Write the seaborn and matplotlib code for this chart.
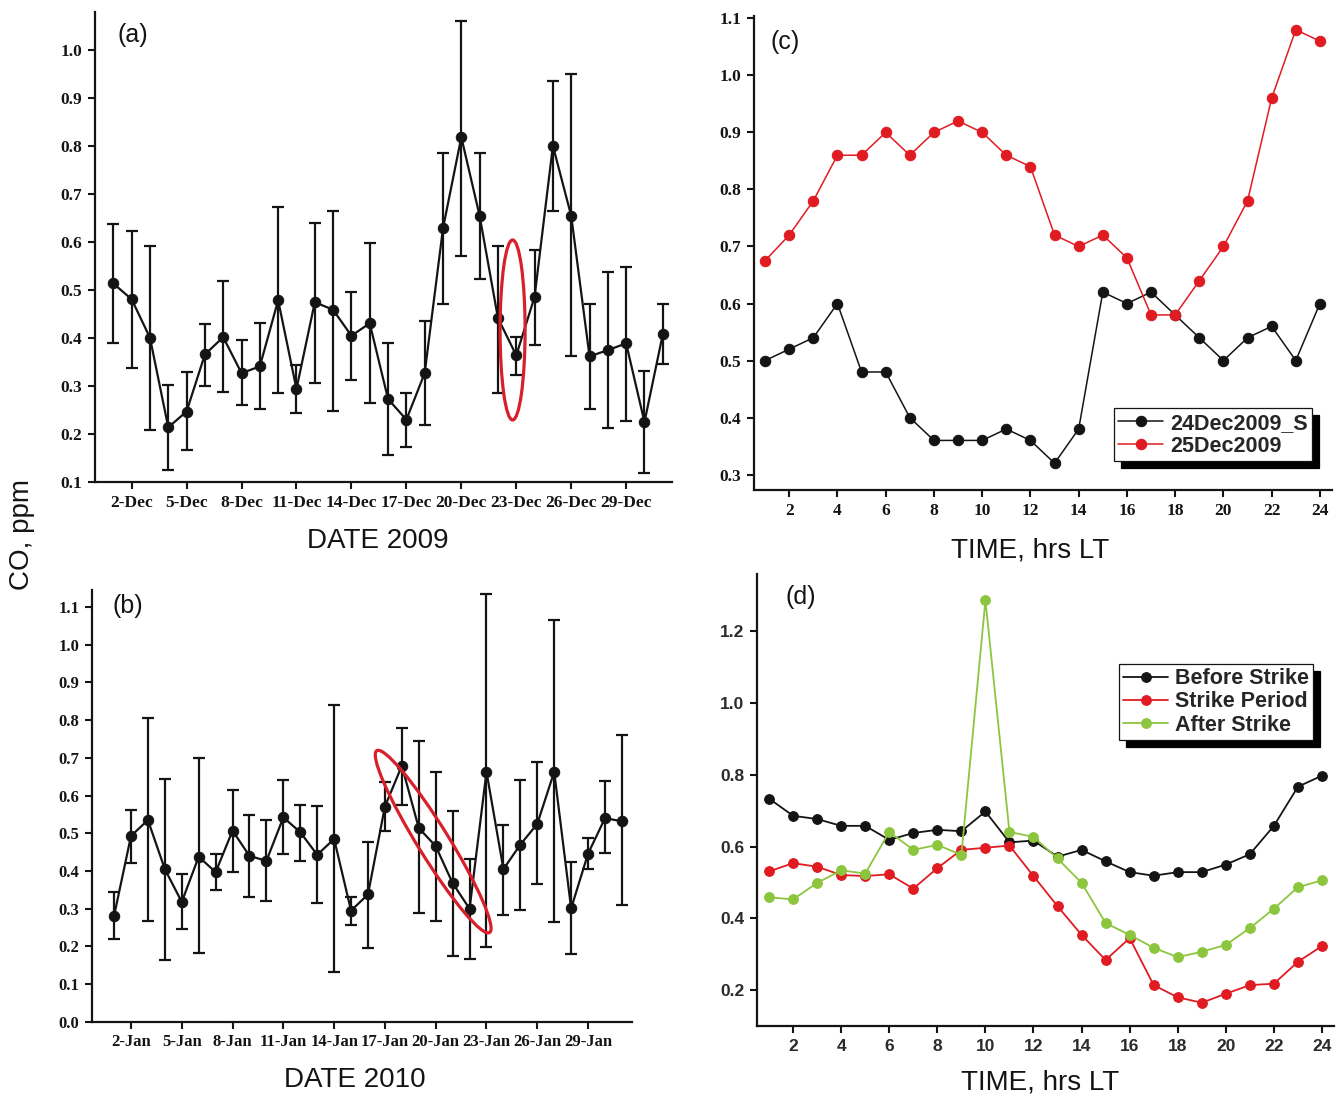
import numpy as np
import seaborn as sns
import matplotlib.pyplot as plt
from matplotlib.patches import Ellipse
from matplotlib.transforms import ScaledTranslation

# ---- panel (a): daily mean CO, December 2009 (ppm) ----
dec_day = list(range(1, 32))
dec_co = [0.514, 0.481, 0.401, 0.214, 0.247, 0.366, 0.402, 0.327, 0.341, 0.479,
          0.294, 0.475, 0.459, 0.405, 0.431, 0.273, 0.230, 0.327, 0.629, 0.819,
          0.655, 0.442, 0.364, 0.486, 0.801, 0.655, 0.362, 0.375, 0.389, 0.225, 0.408]
dec_hi = [0.637, 0.623, 0.592, 0.302, 0.329, 0.430, 0.519, 0.397, 0.431, 0.673,
          0.345, 0.639, 0.666, 0.497, 0.598, 0.389, 0.285, 0.436, 0.787, 1.062,
          0.787, 0.593, 0.403, 0.583, 0.937, 0.951, 0.471, 0.537, 0.548, 0.331, 0.471]
dec_lo = [0.389, 0.338, 0.209, 0.126, 0.166, 0.301, 0.287, 0.260, 0.252, 0.285,
          0.243, 0.307, 0.248, 0.313, 0.264, 0.156, 0.174, 0.218, 0.471, 0.572,
          0.523, 0.285, 0.324, 0.385, 0.665, 0.362, 0.253, 0.213, 0.227, 0.119, 0.347]
dec_ticks = [2, 5, 8, 11, 14, 17, 20, 23, 26, 29]
dec_labels = ["2-Dec", "5-Dec", "8-Dec", "11-Dec", "14-Dec", "17-Dec", "20-Dec",
              "23-Dec", "26-Dec", "29-Dec"]

# ---- panel (b): daily mean CO, January 2010 (ppm) ----
jan_day = list(range(1, 32))
jan_co = [0.281, 0.493, 0.535, 0.405, 0.318, 0.438, 0.397, 0.507, 0.440, 0.427,
          0.542, 0.503, 0.443, 0.485, 0.295, 0.338, 0.571, 0.679, 0.514, 0.466,
          0.368, 0.300, 0.663, 0.405, 0.470, 0.525, 0.663, 0.301, 0.446, 0.540, 0.532]
jan_hi = [0.345, 0.562, 0.805, 0.644, 0.393, 0.699, 0.446, 0.616, 0.548, 0.534,
          0.642, 0.575, 0.572, 0.841, 0.332, 0.476, 0.637, 0.779, 0.744, 0.662,
          0.558, 0.432, 1.133, 0.521, 0.640, 0.690, 1.065, 0.423, 0.487, 0.639, 0.761]
jan_lo = [0.219, 0.422, 0.268, 0.165, 0.247, 0.183, 0.350, 0.397, 0.332, 0.321,
          0.446, 0.427, 0.315, 0.132, 0.257, 0.197, 0.505, 0.575, 0.288, 0.268,
          0.174, 0.167, 0.199, 0.284, 0.297, 0.366, 0.266, 0.179, 0.405, 0.448, 0.311]
jan_ticks = [2, 5, 8, 11, 14, 17, 20, 23, 26, 29]
jan_labels = ["2-Jan", "5-Jan", "8-Jan", "11-Jan", "14-Jan", "17-Jan", "20-Jan",
              "23-Jan", "26-Jan", "29-Jan"]

# ---- panel (c): hourly CO on two days ----
hours = list(range(1, 25))
co_24dec = [0.50, 0.52, 0.54, 0.60, 0.48, 0.48, 0.40, 0.36, 0.36, 0.36, 0.38, 0.36,
            0.32, 0.38, 0.62, 0.60, 0.62, 0.58, 0.54, 0.50, 0.54, 0.56, 0.50, 0.60]
co_25dec = [0.675, 0.72, 0.78, 0.86, 0.86, 0.90, 0.86, 0.90, 0.92, 0.90, 0.86, 0.84,
            0.72, 0.70, 0.72, 0.68, 0.58, 0.58, 0.64, 0.70, 0.78, 0.96, 1.08, 1.06]

# ---- panel (d): hourly CO before / during / after the strike ----
co_before = [0.734, 0.686, 0.677, 0.658, 0.658, 0.619, 0.638, 0.647, 0.643, 0.698,
             0.612, 0.617, 0.572, 0.591, 0.559, 0.529, 0.519, 0.529, 0.529, 0.550,
             0.579, 0.658, 0.767, 0.798]
co_strike = [0.531, 0.554, 0.544, 0.521, 0.518, 0.523, 0.483, 0.540, 0.591, 0.597,
             0.603, 0.518, 0.434, 0.354, 0.284, 0.345, 0.214, 0.180, 0.165, 0.190,
             0.214, 0.218, 0.279, 0.323]
co_after = [0.459, 0.453, 0.499, 0.534, 0.525, 0.641, 0.591, 0.605, 0.577, 1.287,
            0.641, 0.627, 0.567, 0.499, 0.387, 0.354, 0.318, 0.292, 0.307, 0.326,
            0.373, 0.427, 0.487, 0.506]

RED = "#e01b22"
GREEN = "#8cc63e"
INK = "#141414"

sns.set_theme(style="ticks")
plt.rcParams["font.family"] = ["Liberation Sans", "DejaVu Sans"]
plt.rcParams["axes.linewidth"] = 1.5

fig = plt.figure(figsize=(13.38, 10.99), dpi=100, facecolor="white")
ax_a = fig.add_axes([0.0710, 0.5614, 0.4312, 0.4277])
ax_b = fig.add_axes([0.0688, 0.0701, 0.4036, 0.3931])
ax_c = fig.add_axes([0.5635, 0.5541, 0.4320, 0.4313])
ax_d = fig.add_axes([0.5658, 0.0664, 0.4312, 0.4113])


def style_axis(ax, ticks, labels, yticks, serif=True, size=12):
    sns.despine(ax=ax)
    ax.set_facecolor("white")
    for sp in ("left", "bottom"):
        ax.spines[sp].set_color(INK)
        ax.spines[sp].set_linewidth(1.6)
    ax.set_xticks(ticks)
    ax.set_xticklabels(labels)
    ax.set_yticks(yticks)
    ax.set_yticklabels([f"{v:.1f}" for v in yticks])
    ax.tick_params(direction="out", length=5, width=1.5, color=INK, pad=4)
    fam = ["Liberation Serif"] if serif else ["Liberation Sans"]
    for lab in ax.get_xticklabels() + ax.get_yticklabels():
        lab.set_fontfamily(fam)
        lab.set_fontweight("bold")
        lab.set_fontsize(size)
        lab.set_color(INK if serif else "#2b2b2b")
    ax.set_xlabel("")
    ax.set_ylabel("")


def daily(ax, day, co, lo, hi):
    yerr = [np.subtract(co, lo), np.subtract(hi, co)]
    ax.errorbar(day, co, yerr=yerr, fmt="none", ecolor=INK, elinewidth=1.6,
                capsize=4, capthick=1.6, zorder=2)
    sns.lineplot(x=day, y=co, ax=ax, color=INK, linewidth=1.6, marker="o",
                 markersize=7.5, markeredgecolor=INK, zorder=3)


def ring(ax, x, y, w, h, angle):
    # ellipse sized in inches, centred on a data point
    tr = fig.dpi_scale_trans + ScaledTranslation(x, y, ax.transData)
    ax.add_patch(Ellipse((0, 0), w, h, angle=angle, transform=tr, fill=False,
                         edgecolor="#d8202a", linewidth=2.3, zorder=5))


# (a)
daily(ax_a, dec_day, dec_co, dec_lo, dec_hi)
ax_a.set_xlim(0, 31.5)
ax_a.set_ylim(0.1, 1.08)
style_axis(ax_a, dec_ticks, dec_labels, np.round(np.arange(0.1, 1.01, 0.1), 1), size=12.5)
ring(ax_a, 22.8, 0.417, 0.25, 1.80, 0)
ax_a.text(0.066, 0.951, "(a)", transform=ax_a.transAxes, fontsize=18,
          ha="center", va="center", color=INK)

# (b)
daily(ax_b, jan_day, jan_co, jan_lo, jan_hi)
ax_b.set_xlim(-0.3, 31.6)
ax_b.set_ylim(0.0, 1.145)
style_axis(ax_b, jan_ticks, jan_labels, np.round(np.arange(0.0, 1.11, 0.1), 1), size=12)
ring(ax_b, 19.85, 0.478, 2.14, 0.31, -58.2)
ax_b.text(0.067, 0.963, "(b)", transform=ax_b.transAxes, fontsize=18,
          ha="center", va="center", color=INK)

# (c)
sns.lineplot(x=hours, y=co_24dec, ax=ax_c, color=INK, linewidth=1.1, marker="o",
             markersize=7.5, markeredgecolor=INK, label="24Dec2009_S")
sns.lineplot(x=hours, y=co_25dec, ax=ax_c, color=RED, linewidth=1.1, marker="o",
             markersize=7.5, markeredgecolor=RED, label="25Dec2009")
ax_c.set_xlim(0.54, 24.5)
ax_c.set_ylim(0.273, 1.104)
style_axis(ax_c, list(range(2, 25, 2)), [str(h) for h in range(2, 25, 2)],
           np.round(np.arange(0.3, 1.11, 0.1), 1), size=12.5)
ax_c.text(0.054, 0.945, "(c)", transform=ax_c.transAxes, fontsize=18,
          ha="center", va="center", color=INK)

# (d)
sns.lineplot(x=hours, y=co_before, ax=ax_d, color=INK, linewidth=1.3, marker="o",
             markersize=7, markeredgecolor=INK, label="Before Strike")
sns.lineplot(x=hours, y=co_strike, ax=ax_d, color=RED, linewidth=1.3, marker="o",
             markersize=7, markeredgecolor=RED, label="Strike Period")
sns.lineplot(x=hours, y=co_after, ax=ax_d, color=GREEN, linewidth=1.3, marker="o",
             markersize=7, markeredgecolor=GREEN, label="After Strike")
ax_d.set_xlim(0.5, 24.5)
ax_d.set_ylim(0.1, 1.36)
style_axis(ax_d, list(range(2, 25, 2)), [str(h) for h in range(2, 25, 2)],
           np.round(np.arange(0.2, 1.21, 0.2), 1), serif=False, size=12.5)
ax_d.text(0.075, 0.949, "(d)", transform=ax_d.transAxes, fontsize=18,
          ha="center", va="center", color=INK)

shadow = {"ox": 5, "oy": -5, "facecolor": "black", "edgecolor": "black", "alpha": 1}
legend_font = {"family": "Liberation Sans", "weight": "bold", "size": 15.5}
for ax, anchor in ((ax_c, (0.965, 0.061)), (ax_d, (0.964, 0.633))):
    leg = ax.legend(loc="lower right", bbox_to_anchor=anchor, frameon=True,
                    fancybox=False, shadow=shadow, edgecolor=INK, framealpha=1,
                    prop=legend_font, handlelength=2.1, handletextpad=0.3,
                    borderpad=0.2, labelspacing=0.1, borderaxespad=0)
    leg.get_frame().set_linewidth(0.9)

# shared and per-panel axis titles
fig.text(0.0164, 0.5132, "CO, ppm", rotation=90, fontsize=20, ha="center", va="center", color=INK)
fig.text(0.2825, 0.5077, "DATE 2009", fontsize=20, ha="center", va="center", color=INK)
fig.text(0.2653, 0.0173, "DATE 2010", fontsize=20, ha="center", va="center", color=INK)
fig.text(0.7698, 0.4995, "TIME, hrs LT", fontsize=20, ha="center", va="center", color=INK)
fig.text(0.7773, 0.0146, "TIME, hrs LT", fontsize=20, ha="center", va="center", color=INK)

fig.savefig("out.png", dpi=100, facecolor="white")
